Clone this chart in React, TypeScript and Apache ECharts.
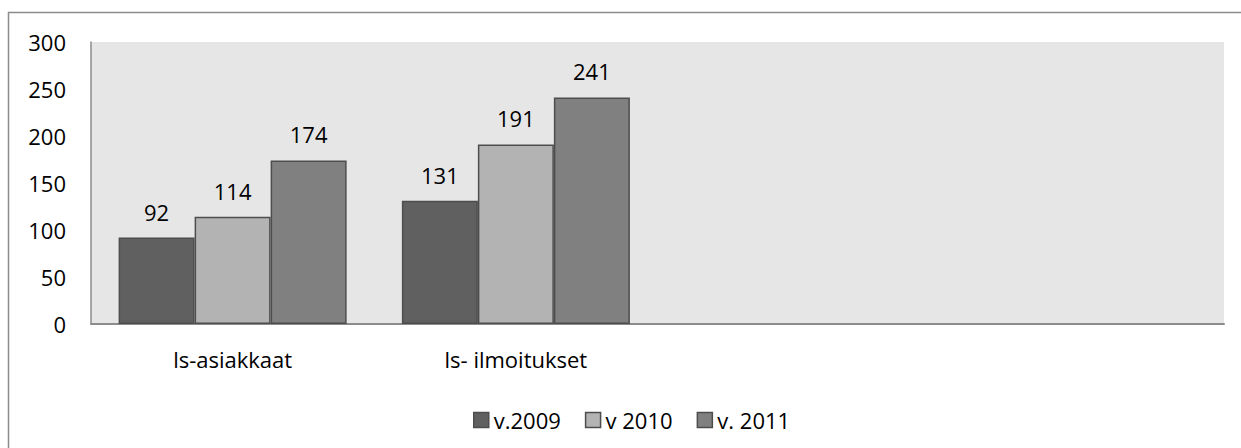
import React, { useEffect, useRef } from "react";
import * as echarts from "echarts";

const categories = ["ls-asiakkaat", "ls- ilmoitukset", "", ""];
const seriesNames = ["v.2009", "v 2010", "v. 2011"];
const v2009 = [92, 131, null, null];
const v2010 = [114, 191, null, null];
const v2011 = [174, 241, null, null];
const seriesColors = ["#606060", "#b3b3b3", "#808080"];
const yTicks = { min: 0, max: 300, interval: 50 };

const FONT = "'Open Sans', 'Noto Sans', sans-serif";

export default function App() {
  const ref = useRef<HTMLDivElement>(null);
  useEffect(() => {
    document.body.style.margin = "0";
    if (!ref.current) return;
    const chart = echarts.init(ref.current, null, { renderer: "svg" });
    const values = [v2009, v2010, v2011];
    const border = "#4d4d4d";
    chart.setOption({
      animation: false,
      backgroundColor: "#ffffff",
      textStyle: { fontFamily: FONT },
      graphic: [
        {
          type: "rect",
          shape: { x: 8.5, y: 12.5, width: 1400, height: 600 },
          style: { fill: "none", stroke: "#8c8c8c", lineWidth: 1.5 },
          silent: true,
        },
      ],
      grid: {
        left: 91,
        top: 42,
        right: 17,
        bottom: 124,
        show: true,
        backgroundColor: "#e6e6e6",
        borderWidth: 0,
      },
      legend: {
        left: 468,
        top: 404,
        itemWidth: 15,
        itemHeight: 15,
        itemGap: 24,
        icon: "rect",
        textStyle: { fontFamily: FONT, fontSize: 22, color: "#000" },
        data: seriesNames.map((n, i) => ({
          name: n,
          itemStyle: { color: seriesColors[i], borderColor: border, borderWidth: 1.5 },
        })),
      },
      xAxis: {
        type: "category",
        data: categories,
        axisTick: { show: false },
        axisLine: { show: true, lineStyle: { color: "#8c8c8c", width: 2 } },
        axisLabel: { fontFamily: FONT, fontSize: 22, color: "#000", margin: 24, interval: 0 },
        splitLine: { show: false },
      },
      yAxis: {
        type: "value",
        min: yTicks.min,
        max: yTicks.max,
        interval: yTicks.interval,
        axisTick: { show: false },
        axisLine: { show: true, lineStyle: { color: "#8c8c8c", width: 1.5 } },
        axisLabel: { fontFamily: FONT, fontSize: 22, color: "#000", margin: 25 },
        splitLine: { show: false },
      },
      series: seriesNames.map((n, i) => ({
        name: n,
        type: "bar",
        data: values[i],
        barGap: "0%",
        barCategoryGap: "19.5%",
        itemStyle: { color: seriesColors[i], borderColor: border, borderWidth: 1.5 },
        label: {
          show: true,
          position: "top",
          distance: 15,
          fontFamily: FONT,
          fontSize: 22,
          color: "#000",
        },
      })),
    });
    return () => chart.dispose();
  }, []);
  return <div ref={ref} style={{ width: 1241, height: 448 }} />;
}
